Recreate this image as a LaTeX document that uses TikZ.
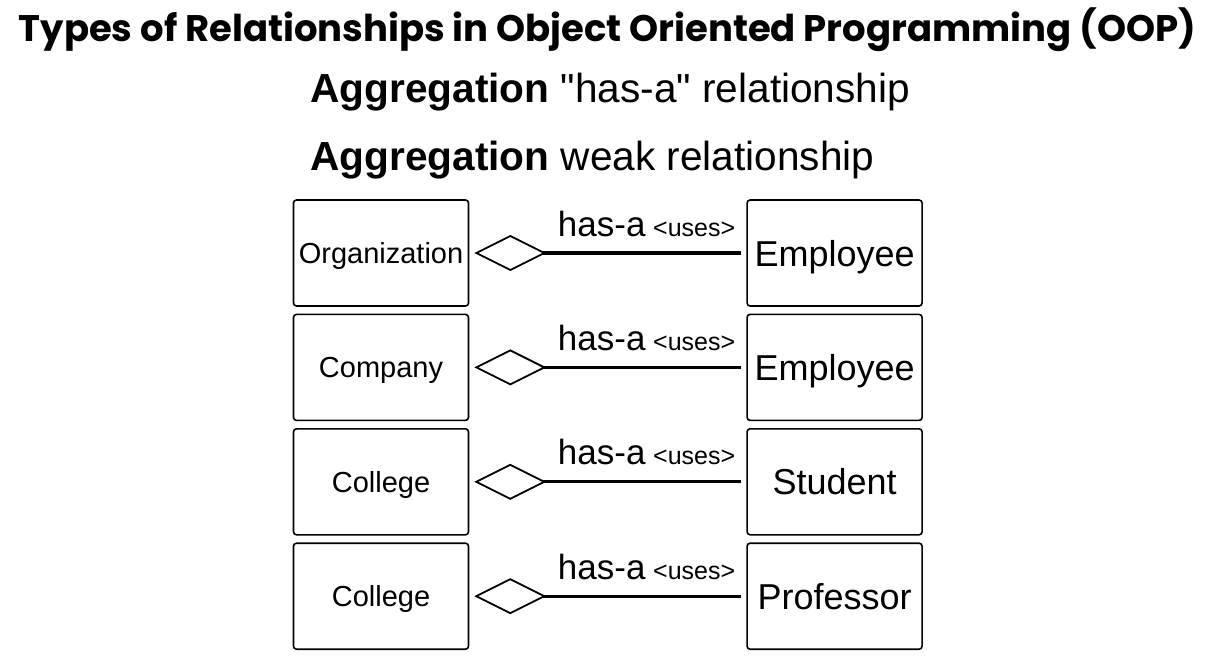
\documentclass[tikz,border=0pt]{standalone}
\usepackage{fontspec}
\setmainfont{Liberation Sans}
\newfontfamily\headfont{Poppins}
\usetikzlibrary{positioning, arrows.meta}

\newcommand{\hasalabel}{has-a\hspace{0.22em}{\fontsize{12.5}{14}\selectfont<uses>}}

\begin{document}
\begin{tikzpicture}[
      x=0.5pt, y=-0.5pt,
      node distance = 3.4pt and 138.5pt,
      cls/.style   = {draw, line width=0.8pt, rounded corners=1.5pt, inner sep=0pt,
                      minimum width=87.5pt, minimum height=53pt, text depth=0pt},
      whole/.style = {cls, font=\fontsize{14.5}{17}\selectfont},
      part/.style  = {cls, font=\fontsize{18}{21}\selectfont},
      agg/.style   = {line width=1.6pt, shorten <=2.5pt, shorten >=2.5pt,
                      -{Diamond[open, length=36pt, width=18pt, line width=0.9pt]}},
      lab/.style   = {font=\fontsize{17.5}{20}\selectfont, anchor=base, yshift=8.5pt,
                      inner sep=0pt, pos=0.36},
      head/.style  = {font=\fontsize{20.3}{24}\selectfont, anchor=base west, inner sep=0pt}]
    \useasboundingbox (0,0) rectangle (1228,658);
    % headings
    \node[font=\headfont\bfseries\fontsize{18.5}{22}\selectfont, anchor=base] (title) at (607.5,42)
      {Types of Relationships in Object Oriented Programming (OOP)};
    \node[head] (hasa) at (310,103) {\textbf{Aggregation} \textquotedbl has-a\textquotedbl{} relationship};
    \node[head] (weak) at (310,170) {\textbf{Aggregation} weak relationship};
    % left column: the whole
    \node[whole] (org)  at (381,253) {Organization};
    \node[whole, below=of org]  (comp) {Company};
    \node[whole, below=of comp] (col)  {College};
    \node[whole, below=of col]  (coll) {College};
    % right column: the part
    \node[part, right=of org]  (emp)  {Employee};
    \node[part, right=of comp] (empl) {Employee};
    \node[part, right=of col]  (stu)  {Student};
    \node[part, right=of coll] (prof) {Professor};
    % aggregation links, open diamond at the whole
    \draw[agg] (emp)  -- (org)  node[lab] {\hasalabel};
    \draw[agg] (empl) -- (comp) node[lab] {\hasalabel};
    \draw[agg] (stu)  -- (col)  node[lab] {\hasalabel};
    \draw[agg] (prof) -- (coll) node[lab] {\hasalabel};
  \end{tikzpicture}
\end{document}
